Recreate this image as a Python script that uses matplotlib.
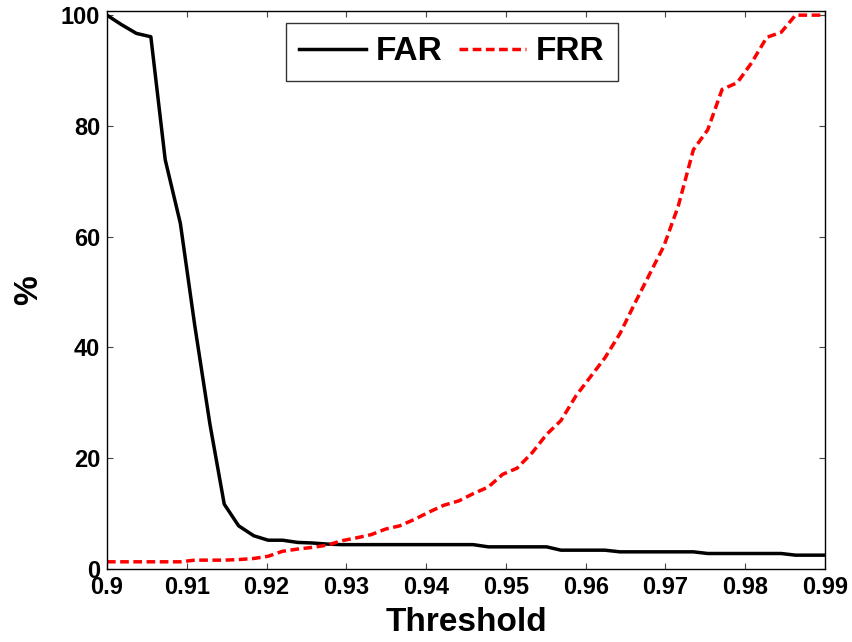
import numpy as np
import matplotlib.pyplot as plt

plt.rcParams['font.family'] = ['Liberation Sans', 'DejaVu Sans']
plt.rcParams['font.weight'] = 'bold'

# threshold grid and error rates (%)
threshold = [0.9000, 0.9018, 0.9037, 0.9055, 0.9073, 0.9092, 0.9110, 0.9129, 0.9147, 0.9165,
             0.9184, 0.9202, 0.9220, 0.9239, 0.9257, 0.9276, 0.9294, 0.9312, 0.9331, 0.9349,
             0.9367, 0.9386, 0.9404, 0.9422, 0.9441, 0.9459, 0.9478, 0.9496, 0.9514, 0.9533,
             0.9551, 0.9569, 0.9588, 0.9606, 0.9624, 0.9643, 0.9661, 0.9680, 0.9698, 0.9716,
             0.9735, 0.9753, 0.9771, 0.9790, 0.9808, 0.9827, 0.9845, 0.9863, 0.9882, 0.9900]

far = [100.0, 98.3, 96.7, 96.1, 73.9, 62.4, 44.0, 26.2, 11.7, 7.8,
       6.0, 5.2, 5.2, 4.8, 4.7, 4.5, 4.4, 4.4, 4.4, 4.4,
       4.4, 4.4, 4.4, 4.4, 4.4, 4.4, 4.0, 4.0, 4.0, 4.0,
       4.0, 3.4, 3.4, 3.4, 3.4, 3.1, 3.1, 3.1, 3.1, 3.1,
       3.1, 2.8, 2.8, 2.8, 2.8, 2.8, 2.8, 2.5, 2.5, 2.5]

frr = [1.3, 1.3, 1.3, 1.3, 1.3, 1.3, 1.6, 1.6, 1.6, 1.7,
       1.9, 2.3, 3.2, 3.6, 3.9, 4.3, 5.1, 5.6, 6.2, 7.2,
       7.8, 9.0, 10.3, 11.5, 12.3, 13.6, 14.8, 17.1, 18.2, 21.0,
       24.3, 26.8, 31.3, 34.7, 38.1, 42.5, 47.8, 53.2, 58.3, 65.5,
       75.7, 79.3, 86.6, 87.8, 91.4, 96.0, 96.9, 100.0, 100.0, 100.0]

xticks = [0.90, 0.91, 0.92, 0.93, 0.94, 0.95, 0.96, 0.97, 0.98, 0.99]
xtick_labels = ['0.9', '0.91', '0.92', '0.93', '0.94', '0.95', '0.96', '0.97', '0.98', '0.99']
yticks = [0, 20, 40, 60, 80, 100]

fig = plt.figure(figsize=(8.53, 6.42), dpi=100)
ax = fig.add_axes([0.1254, 0.1137, 0.8418, 0.8696])

ax.plot(threshold, far, color='black', lw=2.5, label='FAR')
ax.plot(threshold, frr, color='red', lw=2.5, dashes=(2.5, 1.3), label='FRR')

ax.set_xlim(0.9, 0.99)
ax.set_ylim(0, 100.8)
ax.set_xticks(xticks)
ax.set_xticklabels(xtick_labels)
ax.set_yticks(yticks)

ax.tick_params(direction='in', length=4, width=0.8, top=True, right=True,
               labelsize=17, pad=5, color='#444444')
for lab in ax.get_xticklabels() + ax.get_yticklabels():
    lab.set_fontweight('bold')
for sp in ax.spines.values():
    sp.set_linewidth(1.0)

ax.set_xlabel('Threshold', fontsize=24, fontweight='bold', labelpad=6)
ax.set_ylabel('%', fontsize=24, fontweight='bold', labelpad=12)

leg = ax.legend(loc='upper center', bbox_to_anchor=(0.48, 0.978), ncol=2,
                prop={'size': 24, 'weight': 'bold'}, frameon=True, fancybox=False,
                handlelength=2.0, handletextpad=0.3, columnspacing=0.5,
                borderpad=0.4, borderaxespad=0)
leg.get_frame().set_edgecolor('black')
leg.get_frame().set_linewidth(1.0)

fig.savefig('out.png', dpi=100)
